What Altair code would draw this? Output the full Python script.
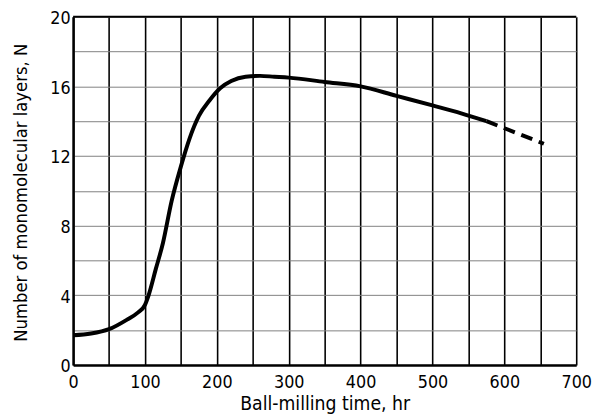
import altair as alt
import pandas as pd

# solid part of the curve
solid_x = [0, 25, 50, 75, 90, 100, 105, 115, 125, 137, 150, 162, 175, 190, 205, 220, 240, 260, 280, 300, 350, 400, 450, 500, 540, 575]
solid_y = [1.7, 1.8, 2.05, 2.6, 3.0, 3.45, 4.0, 5.5, 7.0, 9.4, 11.4, 13.0, 14.3, 15.2, 15.9, 16.3, 16.55, 16.6, 16.55, 16.5, 16.25, 16.0, 15.45, 14.9, 14.45, 14.0]
# dashed (extrapolated) part
dash_x = [575, 615, 655]
dash_y = [14.0, 13.35, 12.7]

x_ticks = list(range(0, 701, 50))
y_ticks = list(range(0, 21, 2))

FONT = "DejaVu Sans Condensed"

solid = pd.DataFrame({"x": solid_x, "y": solid_y})
dashed = pd.DataFrame({"x": dash_x, "y": dash_y})

xscale = alt.Scale(domain=[0, 700], nice=False)
yscale = alt.Scale(domain=[0, 20], nice=False)

xaxis = alt.Axis(values=x_ticks, labelExpr="datum.value % 100 == 0 ? datum.label : ''",
                 title="Ball-milling time, hr", grid=True, gridColor="#000000", gridWidth=1.6,
                 ticks=False, labelPadding=9, labelFontSize=18, titleFontSize=19.5,
                 titlePadding=3, domainColor="#000000", domainWidth=2.5,
                 labelColor="#000000", titleColor="#000000", labelFont=FONT, titleFont=FONT,
                 titleFontWeight="normal", labelFlush=False)
yaxis = alt.Axis(values=y_ticks, labelExpr="datum.value % 4 == 0 ? datum.label : ''",
                 title="Number of monomolecular layers, N", grid=True, gridColor="#808080", gridWidth=1,
                 ticks=False, labelPadding=3, labelFontSize=18, labelOffset=2, titleFontSize=18.5,
                 titleX=-43, titleY=178, domainColor="#000000", domainWidth=2.5,
                 labelColor="#000000", titleColor="#000000", labelFont=FONT, titleFont=FONT,
                 titleFontWeight="normal", labelFlush=False)

base_solid = alt.Chart(solid).mark_line(color="#000000", strokeWidth=4, interpolate="monotone").encode(
    x=alt.X("x:Q", scale=xscale, axis=xaxis),
    y=alt.Y("y:Q", scale=yscale, axis=yaxis),
)
base_dash = alt.Chart(dashed).mark_line(color="#000000", strokeWidth=4, strokeDash=[12, 7], interpolate="monotone").encode(
    x=alt.X("x:Q", scale=xscale, axis=xaxis),
    y=alt.Y("y:Q", scale=yscale, axis=yaxis),
)

top_line = alt.Chart(pd.DataFrame({"y": [20]})).mark_rule(color="#000000", strokeWidth=2).encode(
    y=alt.Y("y:Q", scale=yscale, axis=yaxis)
)

chart = alt.layer(base_solid, base_dash, top_line).properties(
    width=510, height=353,
    autosize=alt.AutoSizeParams(type="none"),
    padding={"left": 66, "top": 6, "right": 16, "bottom": 48},
).configure_view(stroke=None).configure(background="#ffffff")

chart.save("out.html", embed_options={"renderer": "svg", "actions": False})
